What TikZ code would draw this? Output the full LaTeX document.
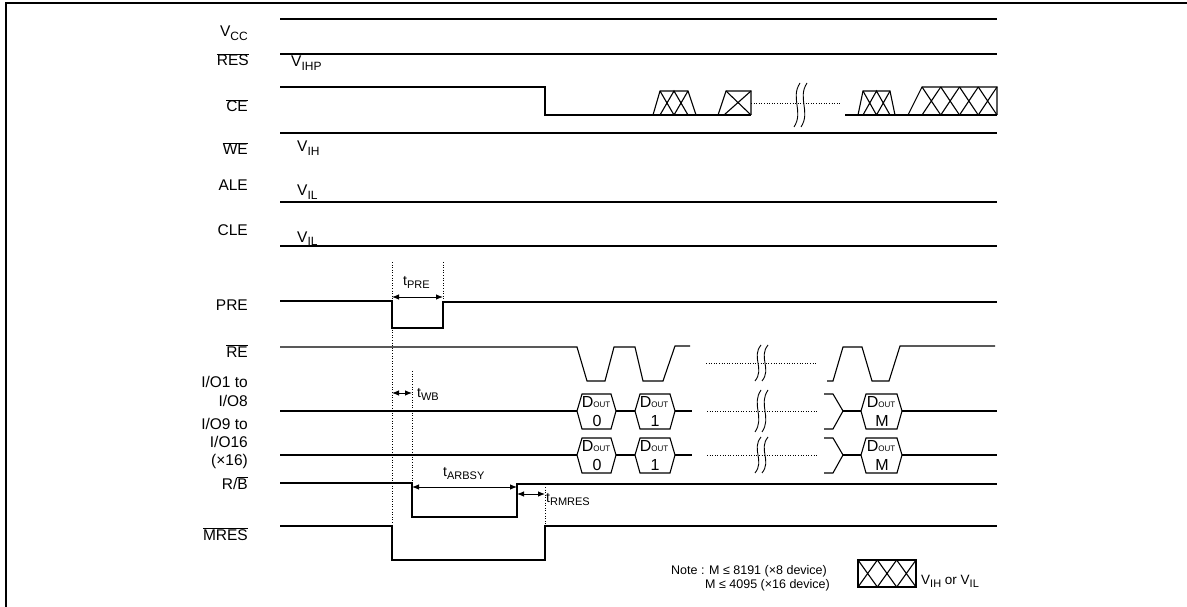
\documentclass[tikz,border=0pt]{standalone}
\usepackage{fontspec}
\setmainfont{Liberation Sans}
\usetikzlibrary{arrows.meta}
\newcommand\sbs[1]{\raisebox{-3.5pt}{\fontsize{11}{11}\selectfont #1}}
\newcommand\vsb[1]{\raisebox{-3.5pt}{\fontsize{12}{12}\selectfont #1}}
\newcommand\osb[1]{{\fontsize{8}{8}\selectfont #1}}
\newcommand\ovl[1]{$\overline{\mbox{#1}}$}
% hexagon: left tip x, right tip x, centre y
\newcommand\hexb[3]{\draw[wave] (#1,#3) -- (#1+5,#3-17) -- (#2-5,#3-17) -- (#2,#3) -- (#2-5,#3+18) -- (#1+5,#3+18) -- cycle;}
% trapezoid with two crosses: bottom-left a, bottom-right b, top-left c, top-right d, top y
\newcommand\trapx[5]{\draw[wave] (#1,115) -- (#3,#5) -- (#4,#5) -- (#2,115);
  \draw[wave] (#3,#5) -- ({(#3+#4)/2},115) (#3,115) -- ({(#3+#4)/2},#5) -- (#4,115) (#4,#5) -- ({(#3+#4)/2},115);}
\begin{document}
\begin{tikzpicture}[x=1pt,y=-1pt,
  wave/.style={line width=1.1pt, line join=miter},
  dotln/.style={line width=0.9pt, dash pattern=on 1pt off 1.6pt},
  lbl/.style={anchor=base east, inner sep=0pt, font=\fontsize{15.5}{18}\selectfont},
  vtx/.style={anchor=base west, inner sep=0pt, font=\fontsize{15.5}{18}\selectfont},
  ttx/.style={anchor=base west, inner sep=0pt, font=\fontsize{14}{17}\selectfont},
  dtx/.style={anchor=base, inner sep=0pt, font=\fontsize{16}{18}\selectfont},
  notetx/.style={anchor=base west, inner sep=0pt, font=\fontsize{12.5}{15}\selectfont},
  legtx/.style={anchor=base west, inner sep=0pt, font=\fontsize{13.5}{15}\selectfont},
  tarrow/.style={{Latex[length=7pt,width=5.5pt]}-{Latex[length=7pt,width=5.5pt]}, line width=0.9pt},
  brk/.pic={\draw[line width=0.9pt] (3,-#1) .. controls (-7,-0.3*#1) and (7,0.3*#1) .. (-3,#1);
            \draw[line width=0.9pt] (10,-#1) .. controls (0,-0.3*#1) and (14,0.3*#1) .. (4,#1);},
]
\useasboundingbox (0,0) rectangle (1187,607);
\fill[white] (0,0) rectangle (1187,607);
\draw[line width=2pt] (6,612) -- (6,3) -- (1192,3);

% ---- labels ----
\node[lbl] (lvcc) at (248,37) {V\vsb{CC}};
\node[lbl] (lres) at (249,66) {\ovl{RES}};
\node[lbl] (lce) at (248,112) {\ovl{CE}};
\node[lbl] (lwe) at (248,155) {\ovl{WE}};
\node[lbl] (lale) at (248,190) {ALE};
\node[lbl] (lcle) at (248,235) {CLE};
\node[lbl] (lpre) at (248,310) {PRE};
\node[lbl] (lre) at (248,357) {\ovl{RE}};
\node[lbl] (lioa) at (248,387) {I/O1 to};
\node[lbl] (liob) at (248,406) {I/O8};
\node[lbl] (lioc) at (248,429) {I/O9 to};
\node[lbl] (liod) at (248,447) {I/O16};
\node[lbl] (lioe) at (248,465) {(×16)};
\node[lbl] (lrb) at (248,489) {R/\ovl{B}};
\node[lbl] (lmres) at (248,540) {\ovl{MRES}};

\node[vtx] (vihp) at (291,67) {V\vsb{IHP}};
\node[vtx] (vih) at (297,152) {V\vsb{IH}};
\node[vtx] (vila) at (297,196) {V\vsb{IL}};
\node[vtx] (vilb) at (297,242) {V\vsb{IL}};

% ---- static lines ----
\draw[wave] (280,19) -- (997,19);
\draw[wave] (280,54) -- (997,54);
\draw[wave] (280,133) -- (997,133);
\draw[wave] (280,202) -- (997,202);
\draw[wave] (280,246) -- (997,246);

% ---- CE ----
\draw[wave] (280,87) -- (545,87) -- (545,115) -- (751,115);
\trapx{653}{696}{660}{688}{91}
\draw[wave] (718,115) -- (726,91) -- (751,91) -- (751,115);
\draw[wave] (726,91) -- (751,115) (751,91) -- (724,115);
\draw[dotln] (751,103) -- (840,103);
\pic at (797,105) {brk=22};
\draw[wave] (845,115) -- (997,115);
\trapx{858}{895}{863}{890}{91}
\draw[wave] (908,115) -- (922,87) -- (997,87) -- (997,115);
\foreach \k in {0,1,2,3}{
  \draw[wave] ({922+\k*18.75},87) -- ({922+(\k+1)*18.75},115)
              ({922+\k*18.75},115) -- ({922+(\k+1)*18.75},87);}

% ---- PRE ----
\draw[wave] (280,301) -- (392,301) -- (392,328) -- (443,328) -- (443,302) -- (997,302);

% ---- RE ----
\draw[wave] (280,347) -- (577,347) -- (587,381) -- (605,381) -- (614,347) -- (635,347)
  -- (643,381) -- (663,381) -- (675,346) -- (690,346);
\draw[dotln] (706,363) -- (817,363);
\pic at (758,363) {brk=18};
\draw[wave] (827,381) -- (833,381) -- (843,347) -- (862,347) -- (872,381) -- (889,381)
  -- (900,346) -- (995,346);

% ---- I/O buses ----
\foreach \yc/\hh in {411/21,455/18}{
  \draw[wave] (280,\yc) -- (577,\yc);
  \hexb{577}{616}{\yc}
  \draw[wave] (616,\yc) -- (635,\yc);
  \hexb{635}{675}{\yc}
  \draw[wave] (675,\yc) -- (692,\yc);
  \draw[dotln] (707,\yc) -- (817,\yc);
  \pic at (758,\yc) {brk=\hh};
  \draw[wave] (824,\yc-17) -- (833,\yc-17) -- (843,\yc) -- (833,\yc+18) -- (824,\yc+18);
  \draw[wave] (843,\yc) -- (861,\yc);
  \hexb{861}{902}{\yc}
  \draw[wave] (902,\yc) -- (997,\yc);
}
\node[dtx] (da0) at (596,407) {D\osb{OUT}};
\node[dtx] (na0) at (597,426) {0};
\node[dtx] (da1) at (654,407) {D\osb{OUT}};
\node[dtx] (na1) at (655,426) {1};
\node[dtx] (dam) at (881,407) {D\osb{OUT}};
\node[dtx] (nam) at (882,426) {M};
\node[dtx] (db0) at (596,451) {D\osb{OUT}};
\node[dtx] (nb0) at (597,470) {0};
\node[dtx] (db1) at (654,451) {D\osb{OUT}};
\node[dtx] (nb1) at (655,470) {1};
\node[dtx] (dbm) at (881,451) {D\osb{OUT}};
\node[dtx] (nbm) at (882,470) {M};

% ---- R/B and MRES ----
\draw[wave] (280,483) -- (412,483) -- (412,517) -- (517,517) -- (517,484) -- (997,484);
\draw[wave] (280,526) -- (392,526) -- (392,560) -- (545,560) -- (545,526) -- (997,526);

% ---- timing markers ----
\coordinate (m1t) at (392,262); \coordinate (m1b) at (392,526);
\coordinate (m2t) at (443,262); \coordinate (m2b) at (443,302);
\coordinate (m3t) at (412,371); \coordinate (m3b) at (412,483);
\coordinate (m4t) at (545,487); \coordinate (m4b) at (545,526);
\draw[dotln] (m1t) -- (m1b);
\draw[dotln] (m2t) -- (m2b);
\draw[dotln] (m3t) -- (m3b);
\draw[dotln] (m4t) -- (m4b);

\coordinate (a1l) at (392,297); \coordinate (a1r) at (443,297);
\coordinate (a2l) at (392,393); \coordinate (a2r) at (412,393);
\coordinate (a3l) at (412,487); \coordinate (a3r) at (517,487);
\coordinate (a4l) at (517,494); \coordinate (a4r) at (545,494);
\draw[tarrow] (a1l) -- (a1r);
\draw[tarrow] (a2l) -- (a2r);
\draw[tarrow] (a3l) -- (a3r);
\draw[tarrow] (a4l) -- (a4r);

\node[ttx] (tpre) at (403,285) {t\sbs{PRE}};
\node[ttx] (twb) at (417,397) {t\sbs{WB}};
\node[ttx] (tarbsy) at (443,476) {t\sbs{ARBSY}};
\node[ttx] (trmres) at (546,502) {t\sbs{RMRES}};

% ---- note and legend ----
\node[notetx] (note1) at (671,574) {Note : M ≤ 8191 (×8 device)};
\node[notetx] (note2) at (705,588) {M ≤ 4095 (×16 device)};
\draw[wave] (858,560) rectangle (916,587);
\foreach \k in {0,1,2}{
  \draw[wave] ({858+\k*19.333},560) -- ({858+(\k+1)*19.333},587)
              ({858+\k*19.333},587) -- ({858+(\k+1)*19.333},560);}
\node[legtx] (legend) at (921,584) {V\sbs{IH} or V\sbs{IL}};
\end{tikzpicture}
\end{document}
